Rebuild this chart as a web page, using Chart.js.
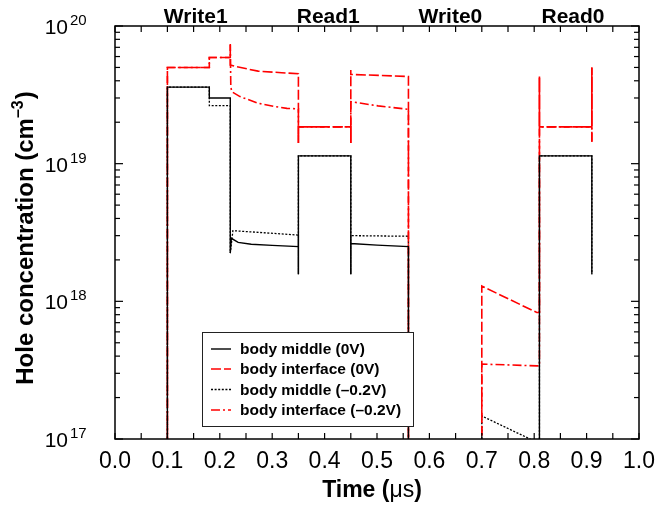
<!DOCTYPE html>
<html>
<head>
<meta charset="utf-8">
<script src="https://cdn.jsdelivr.net/npm/chart.js@4/dist/chart.umd.min.js"></script>
<style>
  html, body { margin: 0; padding: 0; background: #fff; }
  #c { display: block; }
</style>
</head>
<body>
<canvas id="c" width="657" height="511"></canvas>
<script>
// ---------------- data ----------------
// Values below 1e17 are off the bottom of the plot (clipped).
const timeMid0 = [0, 0.1, 0.1, 0.18, 0.18, 0.22, 0.22, 0.222, 0.235, 0.26, 0.3, 0.35, 0.35, 0.35, 0.45, 0.45, 0.45, 0.5, 0.56, 0.56, 0.81, 0.81, 0.91, 0.91];
const valMid0  = [1e16, 1e16, 3.6e19, 3.6e19, 3.0e19, 3.0e19, 2.24e18, 2.87e18, 2.68e18, 2.6e18, 2.55e18, 2.5e18, 1.57e18, 1.14e19, 1.14e19, 1.57e18, 2.63e18, 2.56e18, 2.5e18, 1e16, 1e16, 1.14e19, 1.14e19, 1.57e18];

const timeIf0 = [0, 0.1, 0.1, 0.18, 0.18, 0.22, 0.22, 0.22, 0.232, 0.273, 0.318, 0.35, 0.35, 0.35, 0.45, 0.45, 0.45, 0.45, 0.56, 0.56, 0.7, 0.7, 0.805, 0.81, 0.81, 0.81, 0.91, 0.91, 0.91];
const valIf0  = [1e16, 1e16, 5.0e19, 5.0e19, 5.9e19, 5.9e19, 7.4e19, 5.2e19, 5.06e19, 4.7e19, 4.58e19, 4.5e19, 1.41e19, 1.85e19, 1.85e19, 1.41e19, 4.8e19, 4.45e19, 4.3e19, 1e16, 1e16, 1.29e18, 8.3e17, 8.3e17, 4.3e19, 1.85e19, 1.85e19, 5.0e19, 1.41e19];

const timeMidN = [0, 0.1, 0.1, 0.18, 0.18, 0.22, 0.22, 0.225, 0.35, 0.35, 0.35, 0.45, 0.45, 0.45, 0.56, 0.56, 0.7, 0.7, 0.792, 0.81, 0.81, 0.91, 0.91];
const valMidN  = [1e16, 1e16, 3.6e19, 3.6e19, 2.64e19, 2.64e19, 2.24e18, 3.26e18, 3.03e18, 1.57e18, 1.14e19, 1.14e19, 1.57e18, 3.0e18, 2.97e18, 1e16, 1e16, 1.47e17, 1.0e17, 9.0e16, 1.14e19, 1.14e19, 1.57e18];

const timeIfN = [0, 0.1, 0.1, 0.18, 0.18, 0.22, 0.22, 0.221, 0.223, 0.2385, 0.273, 0.305, 0.328, 0.35, 0.35, 0.35, 0.45, 0.45, 0.45, 0.502, 0.56, 0.56, 0.7, 0.7, 0.805, 0.81, 0.81, 0.81, 0.91, 0.91, 0.91];
const valIfN  = [1e16, 1e16, 5.0e19, 5.0e19, 5.9e19, 5.9e19, 7.4e19, 3.6e19, 3.33e19, 3.07e19, 2.75e19, 2.6e19, 2.52e19, 2.5e19, 1.41e19, 1.85e19, 1.85e19, 1.41e19, 2.82e19, 2.63e19, 2.48e19, 1e16, 1e16, 3.5e17, 3.4e17, 3.4e17, 4.3e19, 1.85e19, 1.85e19, 5.0e19, 1.41e19];

const seriesLabels = ['body middle (0V)', 'body interface (0V)', 'body middle (\u20130.2V)', 'body interface (\u20130.2V)'];
const phaseLabels  = ['Write1', 'Read1', 'Write0', 'Read0'];
const phaseCenters = [0.154, 0.407, 0.64, 0.874];
const xTickLabels  = [0.0, 0.1, 0.2, 0.3, 0.4, 0.5, 0.6, 0.7, 0.8, 0.9, 1.0];
const xMinorTicks  = [0, 0.05, 0.1, 0.15, 0.2, 0.25, 0.3, 0.35, 0.4, 0.45, 0.5, 0.55, 0.6, 0.65, 0.7, 0.75, 0.8, 0.85, 0.9, 0.95, 1.0];
const yDecades     = [17, 18, 19, 20];

// ---------------- chart ----------------
const zip = (t, v) => t.map((x, i) => ({ x: x, y: v[i] }));
const FONT = '"Liberation Sans", Arial, sans-serif';

const decor = {
  id: 'decor',
  afterDraw(chart) {
    const { ctx, chartArea: a, scales: { x, y } } = chart;
    ctx.save();
    const line = (x1, y1, x2, y2) => { ctx.beginPath(); ctx.moveTo(x1, y1); ctx.lineTo(x2, y2); ctx.stroke(); };

    // frame
    ctx.strokeStyle = '#000';
    ctx.lineWidth = 1.5;
    ctx.strokeRect(a.left, a.top, a.right - a.left, a.bottom - a.top);

    // x ticks (inward, bottom + top)
    ctx.lineWidth = 1.2;
    xMinorTicks.forEach(v => {
      const px = x.getPixelForValue(v);
      line(px, a.bottom, px, a.bottom - 6);
      line(px, a.top, px, a.top + 6);
    });
    // y ticks (inward, left + right)
    for (let i = 0; i < yDecades.length; i++) {
      const d = yDecades[i];
      const py = y.getPixelForValue(Math.pow(10, d));
      line(a.left, py, a.left + 8, py);
      line(a.right, py, a.right - 8, py);
      if (i < yDecades.length - 1) {
        for (let m = 2; m <= 9; m++) {
          const pm = y.getPixelForValue(m * Math.pow(10, d));
          line(a.left, pm, a.left + 5, pm);
          line(a.right, pm, a.right - 5, pm);
        }
      }
    }

    // y tick labels 10^n
    ctx.fillStyle = '#000';
    yDecades.forEach(d => {
      const py = y.getPixelForValue(Math.pow(10, d));
      ctx.font = '21px ' + FONT;
      ctx.textAlign = 'right';
      ctx.textBaseline = 'alphabetic';
      ctx.fillText('10', 68, py + 8);
      ctx.font = '15px ' + FONT;
      ctx.textAlign = 'left';
      ctx.fillText(String(d), 70, py - 1);
    });

    // phase labels on top
    ctx.font = 'bold 21px ' + FONT;
    ctx.textAlign = 'center';
    ctx.textBaseline = 'alphabetic';
    phaseLabels.forEach((t, i) => ctx.fillText(t, x.getPixelForValue(phaseCenters[i]), 23));

    // x title: "Time (μs)"
    {
      const parts = [['Time (', 'bold 23px ' + FONT], ['\u03bcs', '23px ' + FONT], [')', 'bold 23px ' + FONT]];
      let w = 0;
      parts.forEach(p => { ctx.font = p[1]; w += ctx.measureText(p[0]).width; });
      let cx = 372 - w / 2;
      ctx.textAlign = 'left';
      parts.forEach(p => { ctx.font = p[1]; ctx.fillText(p[0], cx, 497); cx += ctx.measureText(p[0]).width; });
    }

    // y title: "Hole concentration (cm^-3)"
    {
      ctx.save();
      ctx.translate(33, 238);
      ctx.rotate(-Math.PI / 2);
      const main = 'bold 24px ' + FONT, sup = 'bold 16px ' + FONT;
      const p1 = 'Hole concentration (cm', p2 = '\u20133', p3 = ')';
      ctx.font = main; const w1 = ctx.measureText(p1).width, w3 = ctx.measureText(p3).width;
      ctx.font = sup; const w2 = ctx.measureText(p2).width;
      let cx = -(w1 + w2 + w3 + 1) / 2;
      ctx.textAlign = 'left';
      ctx.font = main; ctx.fillText(p1, cx, 0); cx += w1;
      ctx.font = sup; ctx.fillText(p2, cx, -10); cx += w2 + 1;
      ctx.font = main; ctx.fillText(p3, cx, 0);
      ctx.restore();
    }

    // legend
    {
      const bx = 202, by = 332, bw = 211, bh = 94;
      ctx.fillStyle = '#fff';
      ctx.fillRect(bx, by, bw, bh);
      ctx.strokeStyle = '#222';
      ctx.lineWidth = 1;
      ctx.strokeRect(bx + 0.5, by + 0.5, bw, bh);
      const rows = [349, 369, 389.5, 410];
      chart.data.datasets.forEach((ds, i) => {
        const ry = rows[i];
        ctx.strokeStyle = ds.borderColor;
        ctx.lineWidth = ds.borderWidth;
        ctx.setLineDash(ds.borderDash || []);
        line(211, ry, 231, ry);
        ctx.setLineDash([]);
        ctx.fillStyle = '#000';
        ctx.font = 'bold 15.5px ' + FONT;
        ctx.textAlign = 'left';
        ctx.textBaseline = 'middle';
        ctx.fillText(ds.label, 240, ry + 1);
      });
    }
    ctx.restore();
  }
};

new Chart(document.getElementById('c'), {
  type: 'line',
  data: {
    datasets: [
      { label: seriesLabels[0], data: zip(timeMid0, valMid0), borderColor: '#000000', borderWidth: 1.4, borderDash: [] },
      { label: seriesLabels[1], data: zip(timeIf0, valIf0), borderColor: '#ff0000', borderWidth: 1.6, borderDash: [10, 3] },
      { label: seriesLabels[2], data: zip(timeMidN, valMidN), borderColor: '#000000', borderWidth: 1.3, borderDash: [2, 1.6] },
      { label: seriesLabels[3], data: zip(timeIfN, valIfN), borderColor: '#ff0000', borderWidth: 1.6, borderDash: [9, 3, 2, 3] }
    ]
  },
  options: {
    responsive: false,
    animation: false,
    devicePixelRatio: 1,
    layout: { padding: { top: 26, right: 18, left: 0, bottom: 0 } },
    elements: { point: { radius: 0 }, line: { tension: 0, fill: false } },
    plugins: { legend: { display: false }, tooltip: { enabled: false } },
    scales: {
      x: {
        type: 'linear', position: 'bottom', min: 0, max: 1,
        afterBuildTicks: s => { s.ticks = xTickLabels.map(v => ({ value: v })); },
        ticks: { callback: v => Number(v).toFixed(1), font: { family: FONT, size: 23 }, color: '#000', padding: 9, maxRotation: 0 },
        grid: { display: false, drawTicks: false },
        border: { display: false },
        afterFit: s => { s.height = 72; s.paddingLeft = 0; s.paddingRight = 0; }
      },
      y: {
        type: 'logarithmic', min: 1e17, max: 1e20,
        ticks: { display: false },
        grid: { display: false, drawTicks: false },
        border: { display: false },
        afterFit: s => { s.width = 115; s.paddingTop = 0; s.paddingBottom = 0; }
      }
    }
  },
  plugins: [decor]
});
</script>
</body>
</html>
